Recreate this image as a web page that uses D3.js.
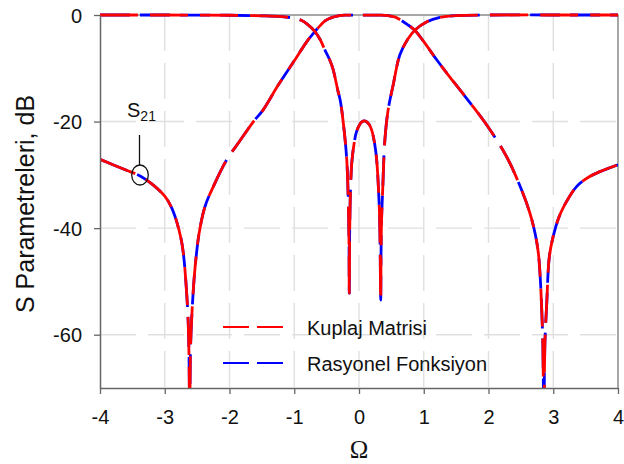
<!DOCTYPE html>
<html>
<head>
<meta charset="utf-8">
<script src="https://cdn.jsdelivr.net/npm/d3@7"></script>
<style>
  html, body { margin: 0; padding: 0; background: #fff; }
  svg { display: block; }
  text { font-family: Arial, "Liberation Sans", sans-serif; fill: #111; }
</style>
</head>
<body>
<svg id="chart" width="624" height="464"></svg>
<script>
// Normalised frequency Ω and S-parameter magnitudes (dB)
const omegaS11 = [-4, -3, -2, -1.5, -1.2, -1.0, -0.9, -0.8, -0.68, -0.6, -0.525, -0.45, -0.4, -0.33, -0.29, -0.24,
  -0.19, -0.165, -0.155, -0.15, -0.145, -0.138, -0.128, -0.11, -0.08, -0.036, 0.04, 0.10, 0.16, 0.196, 0.24, 0.273, 0.313,
  0.325, 0.335, 0.345, 0.366, 0.40, 0.45, 0.53, 0.63, 0.75, 0.865, 1.05, 1.25, 1.5, 2, 3, 4];
const s11dB = [0, 0, -0.05, -0.15, -0.3, -0.6, -0.95, -1.7, -3.1, -4.6, -6.6, -8.5, -10.2, -14, -16, -20.5,
  -27, -35, -42, -52.2, -42, -36, -31.5, -27.5, -24.5, -21.8, -20.1, -19.9, -20.6, -21.6, -24, -27.2, -36,
  -42, -53.5, -40, -32.8, -23.4, -17.8, -13, -7.5, -4.6, -2.8, -1.25, -0.45, -0.1, 0, 0, 0];

const omegaS21 = [-4, -3.8, -3.6, -3.38, -3.2, -3.0, -2.9, -2.82, -2.74, -2.71, -2.69, -2.66, -2.64, -2.625,
  -2.615, -2.605, -2.59, -2.57, -2.54, -2.51, -2.47, -2.38, -2.25, -2.04, -1.85, -1.63, -1.48, -1.25, -1.0,
  -0.91, -0.8, -0.68, -0.6, -0.525, -0.45, -0.4, -0.3, -0.2, 0, 0.3, 0.45, 0.56, 0.63, 0.75, 0.865, 1.0,
  1.2, 1.4, 1.64, 1.97, 2.28, 2.51, 2.64, 2.72, 2.77, 2.8, 2.82, 2.84, 2.855, 2.87, 2.9, 2.94, 3.0, 3.08,
  3.16, 3.36, 3.55, 3.72, 4.0];
const s21dB = [-27.1, -28.1, -29.1, -30.2, -31.7, -34.0, -36.0, -38.6, -42.5, -45, -47.5, -52.5, -57, -64,
  -78, -64, -58.5, -53.8, -48.5, -44.8, -41, -36, -32.2, -27.1, -23.8, -20, -17.8, -13.2, -8.6,
  -6.9, -4.9, -3.1, -2.0, -1.1, -0.6, -0.4, -0.1, -0.03, -0.01, -0.02, -0.1, -0.4, -0.85, -1.8, -2.9, -5.0,
  -8.4, -11.6, -15.3, -20.6, -26.6, -32.8, -37.2, -41, -44.7, -49.5, -54.7, -62, -78, -62, -54, -45.3, -41.5, -38.2,
  -36, -32.2, -30.4, -29.4, -28.1];

const xTicks = [-4, -3, -2, -1, 0, 1, 2, 3, 4];
const yTicks = [0, -20, -40, -60];
const seriesNames = ["Kuplaj Matrisi", "Rasyonel Fonksiyon"];
const seriesColors = ["#ff0000", "#0000ff"];

const svg = d3.select("#chart");
const plot = { left: 100, right: 618, top: 15, bottom: 388 };

const x = d3.scaleLinear().domain([-4, 4]).range([plot.left, plot.right]);
const y = d3.scaleLinear().domain([-70, 0]).range([plot.bottom, plot.top]);

svg.append("defs").append("clipPath").attr("id", "plotClip")
  .append("rect")
  .attr("x", plot.left).attr("y", plot.top - 2)
  .attr("width", plot.right - plot.left).attr("height", plot.bottom - plot.top + 2);

// grid
const grid = svg.append("g").attr("stroke", "#e0e0e0").attr("stroke-width", 1.4).attr("stroke-dasharray", "36,12");
grid.selectAll(".gx").data(xTicks.slice(1, -1)).join("line")
  .attr("x1", d => x(d)).attr("x2", d => x(d))
  .attr("y1", plot.top).attr("y2", plot.bottom);
grid.selectAll(".gy").data(yTicks.slice(1)).join("line")
  .attr("x1", plot.left).attr("x2", plot.right)
  .attr("y1", d => y(d)).attr("y2", d => y(d));

// frame (top/right)
svg.append("path")
  .attr("d", `M${plot.left},${plot.top}H${plot.right}V${plot.bottom}`)
  .attr("fill", "none").attr("stroke", "#8a8a8a").attr("stroke-width", 1.5);

// curves
const line = d3.line().x(d => x(d[0])).y(d => y(d[1])).curve(d3.curveCatmullRom.alpha(0.5));
const s11 = omegaS11.map((w, i) => [w, s11dB[i]]);
const s21 = omegaS21.map((w, i) => [w, s21dB[i]]);

const curves = svg.append("g").attr("clip-path", "url(#plotClip)");
const dashes = ["38,12", "30,10"];
// rational-function curves beneath, coupling-matrix curves on top
[1, 0].forEach(k => {
  [s11, s21].forEach(data => {
    curves.append("path")
      .datum(data)
      .attr("d", line)
      .attr("fill", "none")
      .attr("stroke", seriesColors[k])
      .attr("stroke-width", 2.8)
      .attr("stroke-dasharray", dashes[k])
      .attr("stroke-linejoin", "round");
  });
});

// axes
const fmt = d => String(d);
const xAxis = svg.append("g").attr("transform", `translate(0,${plot.bottom})`)
  .call(d3.axisBottom(x).tickValues(xTicks).tickSize(6).tickSizeOuter(0).tickFormat(fmt));
const yAxis = svg.append("g").attr("transform", `translate(${plot.left},0)`)
  .call(d3.axisLeft(y).tickValues(yTicks).tickSize(6).tickSizeOuter(0).tickFormat(fmt));
[xAxis, yAxis].forEach(a => {
  a.select(".domain").attr("stroke", "#666").attr("stroke-width", 1.5);
  a.selectAll(".tick line").attr("stroke", "#666").attr("stroke-width", 1.3);
  a.selectAll(".tick text").attr("font-size", 20).attr("font-family", "Arial, 'Liberation Sans', sans-serif").attr("fill", "#111");
});
xAxis.selectAll(".tick text").attr("dy", null).attr("y", 36);
yAxis.selectAll(".tick text").attr("x", -18).attr("dy", "0.35em");

// axis titles
svg.append("text")
  .attr("transform", `translate(34,${(95 + 313) / 2}) rotate(-90)`)
  .attr("text-anchor", "middle")
  .attr("font-size", 25)
  .text("S Parametreleri, dB");
svg.append("text")
  .attr("x", x(0)).attr("y", 458)
  .attr("text-anchor", "middle")
  .attr("font-size", 25)
  .style("font-family", "'Liberation Serif', 'DejaVu Serif', serif")
  .text("Ω");

// S21 annotation
const ann = svg.append("g");
const label = ann.append("text").attr("x", 127).attr("y", 117).attr("font-size", 20);
label.append("tspan").text("S");
label.append("tspan").attr("font-size", 14).attr("dy", 4).text("21");
ann.append("line").attr("x1", 139.5).attr("x2", 139.5).attr("y1", 135).attr("y2", 165)
  .attr("stroke", "#111").attr("stroke-width", 1.3);
ann.append("ellipse").attr("cx", 140).attr("cy", 175).attr("rx", 8.3).attr("ry", 10)
  .attr("fill", "none").attr("stroke", "#111").attr("stroke-width", 1.3);

// legend
const legend = svg.append("g");
seriesNames.forEach((name, i) => {
  const ly = 327 + i * 36;
  legend.append("line")
    .attr("x1", 223).attr("x2", 283).attr("y1", ly).attr("y2", ly)
    .attr("stroke", seriesColors[i]).attr("stroke-width", 1.8)
    .attr("stroke-dasharray", "26,8");
  legend.append("text")
    .attr("x", 307).attr("y", ly + 8)
    .attr("font-size", 20)
    .text(name);
});
</script>
</body>
</html>
